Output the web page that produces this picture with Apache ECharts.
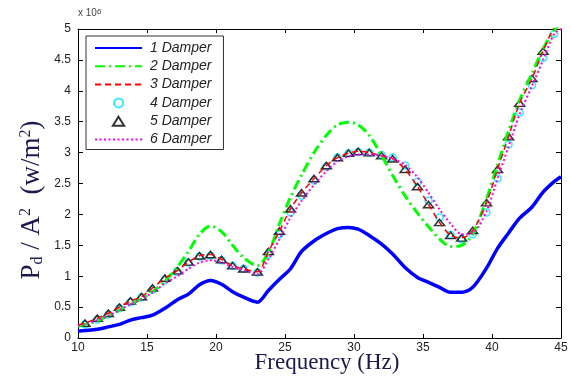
<!DOCTYPE html>
<html>
<head>
<meta charset="utf-8">
<script src="https://cdn.jsdelivr.net/npm/echarts@6/dist/echarts.min.js"></script>
<style>
html,body{margin:0;padding:0;background:#fff;}
#c{width:571px;height:376px;}
</style>
</head>
<body>
<div id="c"></div>
<script>
// Frequency grid (Hz)
var freq = [10.0, 10.5, 11.4, 12.2, 13.0, 13.8, 14.6, 15.4, 16.3, 17.2, 18.0, 18.8, 19.6, 20.4, 21.2, 22.0, 23.0, 23.8, 24.6, 25.4, 26.2, 27.1, 28.0, 28.8, 29.6, 30.3, 31.1, 32.0, 32.8, 33.7, 34.6, 35.4, 36.2, 37.0, 37.8, 38.6, 39.6, 40.4, 41.2, 42.0, 42.9, 43.7, 44.5, 45.0];
// Values in units of 10^6 w/m^2
var damper1 = [0.11, 0.12, 0.14, 0.18, 0.22, 0.29, 0.33, 0.37, 0.48, 0.62, 0.71, 0.86, 0.93, 0.87, 0.75, 0.66, 0.58, 0.77, 0.95, 1.12, 1.40, 1.57, 1.69, 1.77, 1.79, 1.76, 1.66, 1.52, 1.36, 1.14, 0.98, 0.90, 0.82, 0.74, 0.74, 0.82, 1.13, 1.45, 1.70, 1.94, 2.12, 2.36, 2.53, 2.61];
var damper2 = [0.19, 0.22, 0.28, 0.36, 0.45, 0.55, 0.63, 0.75, 0.92, 1.15, 1.40, 1.68, 1.81, 1.72, 1.50, 1.30, 1.17, 1.38, 1.85, 2.28, 2.64, 3.00, 3.28, 3.45, 3.49, 3.45, 3.28, 2.95, 2.63, 2.30, 2.02, 1.80, 1.60, 1.48, 1.50, 1.68, 2.25, 2.80, 3.35, 3.85, 4.28, 4.68, 4.98, 5.08];
var damper3 = [0.21, 0.24, 0.32, 0.40, 0.50, 0.60, 0.67, 0.81, 0.97, 1.09, 1.23, 1.33, 1.35, 1.27, 1.17, 1.12, 1.07, 1.40, 1.73, 2.09, 2.35, 2.58, 2.79, 2.92, 2.99, 3.02, 3.00, 2.95, 2.90, 2.73, 2.45, 2.16, 1.87, 1.66, 1.62, 1.74, 2.19, 2.73, 3.26, 3.80, 4.20, 4.64, 5.02, 5.08];
// marker-only series, sampled at freq[1] .. freq[42]
var damper4 = [0.22, 0.30, 0.38, 0.48, 0.58, 0.66, 0.78, 0.94, 1.07, 1.22, 1.32, 1.33, 1.26, 1.17, 1.12, 1.06, 1.35, 1.68, 2.03, 2.30, 2.55, 2.77, 2.92, 2.99, 3.01, 3.00, 2.96, 2.92, 2.79, 2.53, 2.22, 1.95, 1.67, 1.60, 1.68, 2.03, 2.58, 3.13, 3.65, 4.09, 4.53, 4.92];
var damper5 = [0.24, 0.32, 0.40, 0.50, 0.60, 0.67, 0.81, 0.97, 1.09, 1.23, 1.33, 1.35, 1.27, 1.17, 1.12, 1.07, 1.40, 1.73, 2.09, 2.35, 2.58, 2.79, 2.92, 2.99, 3.02, 3.00, 2.95, 2.90, 2.73, 2.45, 2.16, 1.87, 1.66, 1.62, 1.74, 2.19, 2.73, 3.26, 3.80, 4.20, 4.64, 5.02];
var damper6 = [0.20, 0.22, 0.29, 0.36, 0.45, 0.55, 0.62, 0.74, 0.88, 1.00, 1.12, 1.22, 1.26, 1.22, 1.15, 1.10, 1.03, 1.28, 1.60, 1.95, 2.22, 2.48, 2.70, 2.86, 2.94, 2.97, 2.97, 2.95, 2.90, 2.80, 2.60, 2.35, 2.08, 1.85, 1.68, 1.70, 2.05, 2.58, 3.10, 3.62, 4.08, 4.50, 4.92, 5.00];
var names = ['1 Damper', '2 Damper', '3 Damper', '4 Damper', '5 Damper', '6 Damper'];
var xTicks = {min: 10, max: 45, step: 5};
var yTicks = {min: 0, max: 5, step: 0.5};

function pairs(xs, ys) { return ys.map(function (v, i) { return [xs[i], v]; }); }
var markerFreq = freq.slice(1, 43);

var chart = echarts.init(document.getElementById('c'), null, {renderer: 'canvas'});
var sans = 'Liberation Sans, Arial, sans-serif';
var serif = 'Liberation Serif, Times New Roman, serif';
var titleColor = '#1a1a4e';
var triPath = 'path://M5,0L10,8L0,8Z';

function xAx(pos, show) {
  return {
    type: 'value', position: pos, min: xTicks.min, max: xTicks.max, interval: xTicks.step,
    axisLine: {show: true, onZero: false, lineStyle: {color: '#000', width: 1}},
    axisTick: {show: true, inside: true, length: 4, lineStyle: {color: '#000'}},
    axisLabel: {show: show, color: '#222', fontSize: 12, fontFamily: sans, margin: 4},
    splitLine: {show: false}
  };
}
function yAx(pos, show) {
  return {
    type: 'value', position: pos, min: yTicks.min, max: yTicks.max, interval: yTicks.step,
    axisLine: {show: true, onZero: false, lineStyle: {color: '#000', width: 1}},
    axisTick: {show: true, inside: true, length: 5, lineStyle: {color: '#000'}},
    axisLabel: {show: show, color: '#222', fontSize: 12, fontFamily: sans, margin: 7},
    splitLine: {show: false}
  };
}

var hideSym = {opacity: 0};
var option = {
  backgroundColor: '#fff',
  animation: false,
  grid: {left: 78, right: 10, top: 29, bottom: 38, containLabel: false},
  xAxis: [xAx('bottom', true), xAx('top', false)],
  yAxis: [yAx('left', true), yAx('right', false)],
  legend: {
    orient: 'vertical', left: 86, top: 36,
    data: [
      {name: names[0], itemStyle: hideSym},
      {name: names[1], itemStyle: hideSym},
      {name: names[2], itemStyle: hideSym},
      {name: names[3], icon: 'circle'},
      {name: names[4], icon: triPath},
      {name: names[5], itemStyle: hideSym}
    ],
    symbolKeepAspect: true,
    itemWidth: 47, itemHeight: 9, itemGap: 4.3,
    padding: [5, 12, 3, 8],
    backgroundColor: '#fff', borderColor: '#333', borderWidth: 1,
    textStyle: {fontFamily: sans, fontSize: 14, fontStyle: 'italic', color: '#222', padding: [0, 0, 0, 3]}
  },
  series: [
    {name: names[0], type: 'line', data: pairs(freq, damper1), symbol: 'none', smooth: 0.3,
      lineStyle: {color: '#0000ff', width: 3.5}, itemStyle: {color: '#0000ff'}},
    {name: names[1], type: 'line', data: pairs(freq, damper2), symbol: 'none', smooth: 0.3,
      lineStyle: {color: '#00ff00', width: 3, type: [10, 4, 2, 4]}, itemStyle: {color: '#00ff00'}},
    {name: names[2], type: 'line', data: pairs(freq, damper3), symbol: 'none', smooth: 0.3,
      lineStyle: {color: '#ff0000', width: 1.5, type: [6, 4]}, itemStyle: {color: '#ff0000'}},
    {name: names[3], type: 'scatter', data: pairs(markerFreq, damper4), symbol: 'circle', symbolSize: 7,
      itemStyle: {color: 'rgba(0,0,0,0)', borderColor: '#00e5ff', borderWidth: 1.5}},
    {name: names[5], type: 'line', data: pairs(freq, damper6), symbol: 'none', smooth: 0.3,
      lineStyle: {color: '#ff00ff', width: 2, type: [2, 2.5]}, itemStyle: {color: '#ff00ff'}},
    {name: names[4], type: 'scatter', data: pairs(markerFreq, damper5), symbol: triPath, symbolSize: [10, 8],
      symbolKeepAspect: true,
      itemStyle: {color: 'rgba(0,0,0,0)', borderColor: '#000', borderWidth: 1.5}}
  ],
  graphic: [
    {type: 'text', x: 78, y: 8, style: {
      text: '{a|x 10}{b|6}', rich: {
        a: {fontSize: 10, fontFamily: sans, fill: '#444', verticalAlign: 'bottom'},
        b: {fontSize: 8, fontFamily: sans, fill: '#444', verticalAlign: 'top'}
      }}},
    {type: 'text', x: 32, y: 200, rotation: Math.PI / 2, style: {
      text: '{a|P}{b|d}{a| / A}{c|2}{a|  (w/m}{c|2}{a|)}',
      align: 'center', verticalAlign: 'middle',
      rich: {
        a: {fontSize: 27, fontFamily: serif, fill: titleColor, verticalAlign: 'middle'},
        b: {fontSize: 16, fontFamily: serif, fill: titleColor, verticalAlign: 'bottom', padding: [12, 0, 0, 0]},
        c: {fontSize: 16, fontFamily: serif, fill: titleColor, verticalAlign: 'top', padding: [0, 0, 12, 0]}
      }}},
    {type: 'text', x: 327, y: 363, style: {
      text: 'Frequency (Hz)', align: 'center', verticalAlign: 'middle',
      fontSize: 23, fontFamily: serif, fill: titleColor}}
  ]
};
chart.setOption(option);
</script>
</body>
</html>
